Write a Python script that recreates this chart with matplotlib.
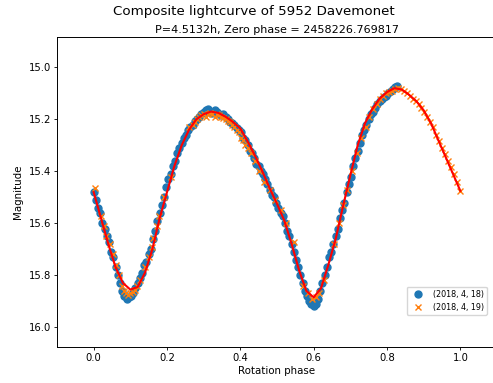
import numpy as np
import matplotlib
matplotlib.use("Agg")
import matplotlib.pyplot as plt

# fitted lightcurve
fit_phase = [0.00, 0.02, 0.04, 0.06, 0.08, 0.10, 0.12, 0.14, 0.16, 0.18,
             0.20, 0.22, 0.24, 0.26, 0.28, 0.30, 0.32, 0.34, 0.36, 0.38,
             0.40, 0.42, 0.44, 0.46, 0.48, 0.50, 0.52, 0.54, 0.56, 0.58,
             0.60, 0.62, 0.64, 0.66, 0.68, 0.70, 0.72, 0.74, 0.76, 0.78,
             0.80, 0.82, 0.84, 0.86, 0.88, 0.90, 0.92, 0.94, 0.96, 0.98, 1.00]
fit_mag = [15.48, 15.58, 15.68, 15.77, 15.83, 15.855, 15.845, 15.79, 15.70, 15.58,
           15.48, 15.38, 15.30, 15.24, 15.20, 15.18, 15.17, 15.175, 15.19, 15.21,
           15.235, 15.285, 15.34, 15.40, 15.465, 15.525, 15.59, 15.68, 15.78, 15.86,
           15.885, 15.85, 15.76, 15.66, 15.535, 15.415, 15.30, 15.215, 15.16, 15.12,
           15.095, 15.08, 15.085, 15.105, 15.13, 15.165, 15.215, 15.28, 15.345, 15.41, 15.475]

# night 1: (2018, 4, 18)
n1_phase = [0.000, 0.006, 0.012, 0.018, 0.024, 0.030, 0.036, 0.042, 0.048, 0.054,
            0.060, 0.066, 0.072, 0.078, 0.084, 0.090, 0.096, 0.102, 0.108, 0.114,
            0.120, 0.126, 0.132, 0.138, 0.144, 0.150, 0.156, 0.162, 0.168, 0.174,
            0.180, 0.186, 0.192, 0.198, 0.204, 0.210, 0.216, 0.222, 0.228, 0.234,
            0.240, 0.246, 0.252, 0.258, 0.264, 0.270, 0.276, 0.282, 0.288, 0.294,
            0.300, 0.306, 0.312, 0.318, 0.324, 0.330, 0.336, 0.342, 0.348, 0.354,
            0.360, 0.366, 0.372, 0.378, 0.384, 0.390, 0.396, 0.402, 0.408, 0.414,
            0.420, 0.426, 0.432, 0.438, 0.444, 0.450, 0.456, 0.462, 0.468, 0.474,
            0.480, 0.486, 0.492, 0.498, 0.504, 0.510, 0.516, 0.522, 0.528, 0.534,
            0.540, 0.546, 0.552, 0.558, 0.564, 0.570, 0.576, 0.582, 0.588, 0.594,
            0.600, 0.606, 0.612, 0.618, 0.624, 0.630, 0.636, 0.642, 0.648, 0.654,
            0.660, 0.666, 0.672, 0.678, 0.684, 0.690, 0.696, 0.702, 0.708, 0.714,
            0.720, 0.726, 0.732, 0.738, 0.744, 0.750, 0.756, 0.762, 0.768, 0.774,
            0.780, 0.786, 0.792, 0.798, 0.804, 0.810, 0.816, 0.822, 0.828]
n1_mag = [15.48, 15.51, 15.54, 15.56, 15.60, 15.62, 15.65, 15.67, 15.71, 15.73,
          15.77, 15.80, 15.83, 15.86, 15.88, 15.89, 15.885, 15.88, 15.87, 15.85,
          15.83, 15.81, 15.79, 15.76, 15.75, 15.72, 15.70, 15.66, 15.63, 15.59,
          15.56, 15.53, 15.50, 15.46, 15.43, 15.41, 15.38, 15.36, 15.33, 15.31,
          15.29, 15.27, 15.26, 15.24, 15.23, 15.22, 15.205, 15.20, 15.19, 15.18,
          15.17, 15.165, 15.16, 15.17, 15.175, 15.165, 15.17, 15.18, 15.185, 15.18,
          15.19, 15.20, 15.21, 15.215, 15.22, 15.235, 15.24, 15.25, 15.27, 15.28,
          15.30, 15.32, 15.33, 15.35, 15.37, 15.38, 15.40, 15.41, 15.43, 15.45,
          15.47, 15.49, 15.50, 15.52, 15.54, 15.56, 15.57, 15.60, 15.63, 15.65,
          15.68, 15.71, 15.74, 15.77, 15.80, 15.83, 15.86, 15.88, 15.90, 15.91,
          15.92, 15.91, 15.89, 15.86, 15.83, 15.80, 15.77, 15.73, 15.71, 15.68,
          15.65, 15.62, 15.58, 15.55, 15.52, 15.48, 15.45, 15.42, 15.38, 15.35,
          15.32, 15.29, 15.26, 15.24, 15.22, 15.20, 15.18, 15.17, 15.155, 15.14,
          15.13, 15.12, 15.115, 15.11, 15.10, 15.09, 15.085, 15.075, 15.07]

# night 2: (2018, 4, 19)
n2_phase = [0.005, 0.020, 0.028, 0.035, 0.044, 0.052, 0.060, 0.068, 0.076, 0.082,
            0.088, 0.094, 0.100, 0.106, 0.112, 0.118, 0.125, 0.140, 0.150, 0.158,
            0.162, 0.172, 0.178, 0.192, 0.210, 0.260, 0.270, 0.276, 0.282, 0.288,
            0.294, 0.300, 0.306, 0.312, 0.318, 0.324, 0.330, 0.336, 0.342, 0.348,
            0.354, 0.360, 0.366, 0.372, 0.378, 0.384, 0.390, 0.396, 0.402, 0.408,
            0.414, 0.420, 0.430, 0.440, 0.450, 0.465, 0.480, 0.495, 0.510, 0.525,
            0.545, 0.570, 0.585, 0.595, 0.605, 0.615, 0.628, 0.655, 0.668, 0.680,
            0.692, 0.705, 0.718, 0.730, 0.742, 0.752, 0.762, 0.772, 0.782, 0.790,
            0.798, 0.806, 0.814, 0.822, 0.830, 0.838, 0.846, 0.854, 0.862, 0.870,
            0.878, 0.886, 0.894, 0.902, 0.910, 0.918, 0.926, 0.934, 0.942, 0.950,
            0.958, 0.966, 0.974, 0.982, 0.990, 1.000]
n2_mag = [15.465, 15.57, 15.61, 15.65, 15.68, 15.72, 15.76, 15.80, 15.84, 15.86,
          15.87, 15.875, 15.87, 15.865, 15.855, 15.84, 15.82, 15.77, 15.73, 15.69,
          15.655, 15.61, 15.57, 15.50, 15.42, 15.23, 15.22, 15.21, 15.20, 15.19,
          15.185, 15.18, 15.19, 15.18, 15.175, 15.18, 15.19, 15.18, 15.185, 15.19,
          15.195, 15.20, 15.205, 15.21, 15.22, 15.23, 15.24, 15.25, 15.27, 15.28,
          15.30, 15.31, 15.33, 15.36, 15.40, 15.44, 15.47, 15.51, 15.55, 15.60,
          15.67, 15.84, 15.87, 15.89, 15.885, 15.87, 15.82, 15.68, 15.60, 15.53,
          15.47, 15.40, 15.33, 15.27, 15.23, 15.19, 15.16, 15.14, 15.12, 15.11,
          15.10, 15.095, 15.09, 15.085, 15.08, 15.085, 15.09, 15.10, 15.11, 15.12,
          15.13, 15.14, 15.155, 15.17, 15.19, 15.21, 15.23, 15.26, 15.285, 15.31,
          15.335, 15.36, 15.385, 15.41, 15.44, 15.475]

fig = plt.figure(figsize=(4.93, 3.83), dpi=100)
ax = fig.add_axes([57/493, 36/383, 440/493, 310/383])

ax.plot(n1_phase, n1_mag, 'o', color='#1f77b4', ms=5, label='(2018, 4, 18)')
ax.plot(n2_phase, n2_mag, 'x', color='#ff7f0e', ms=4.8, mew=1.0, label='(2018, 4, 19)')
ax.plot(fit_phase, fit_mag, '-', color='red', lw=1.5)

ax.set_xlim(-0.1, 1.1)
ax.set_ylim(16.076, 14.883)
ax.set_xticks([0.0, 0.2, 0.4, 0.6, 0.8, 1.0])
ax.set_yticks([15.0, 15.2, 15.4, 15.6, 15.8, 16.0])
ax.tick_params(labelsize=7.2, length=2.5, width=0.6, pad=2)
for s in ax.spines.values():
    s.set_linewidth(0.7)

ax.set_xlabel("Rotation phase", fontsize=7.4, labelpad=2)
ax.set_ylabel("Magnitude", fontsize=7.4, labelpad=4)

fig.text(253.5/493, 1 - 12/383, "Composite lightcurve of 5952 Davemonet",
         ha='center', va='center', fontsize=9.6)
ax.set_title("P=4.5132h, Zero phase = 2458226.769817", fontsize=8.0, pad=3)

ax.legend(loc='lower right', bbox_to_anchor=(487/493, 68/383),
          bbox_transform=fig.transFigure, fontsize=5.8, borderaxespad=0)

fig.savefig("out.png", dpi=100)
